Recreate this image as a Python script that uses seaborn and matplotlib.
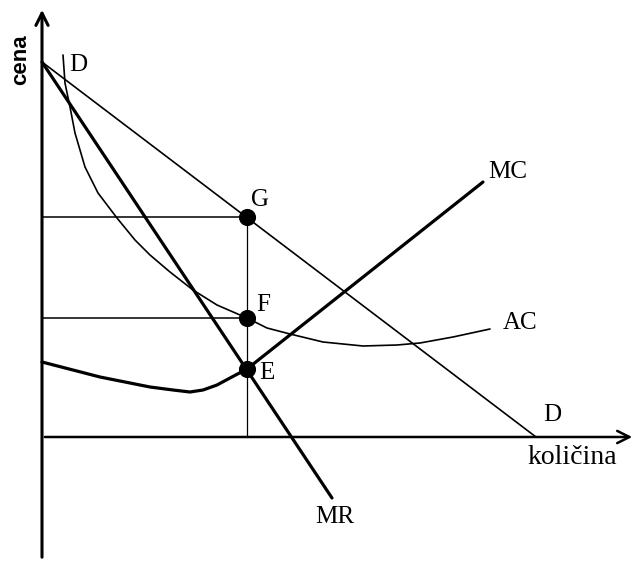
import matplotlib
matplotlib.use("Agg")
import matplotlib.pyplot as plt
import seaborn as sns
import pandas as pd

# ─── Data (quantity, price) ────────────────────────────────
D_Q  = [0.0, 49.4]
D_P  = [37.5, 0.0]
MR_Q = [0.0, 29.0]
MR_P = [37.5, -6.1]

AC_Q = [2.1, 2.3, 2.8, 3.3, 4.3, 5.6, 7.5, 9.3, 10.8, 12.8, 15.1, 17.5, 19.8, 20.5,
        22.5, 24.8, 28.1, 32.1, 35.5, 37.8, 41.1, 44.8]
AC_P = [38.2, 35.4, 33.0, 30.4, 27.0, 24.4, 21.9, 19.7, 18.2, 16.5, 14.7, 13.2, 12.2, 11.9,
        10.9, 10.3, 9.5, 9.1, 9.2, 9.4, 10.0, 10.8]

MC_Q = [0.0, 5.8, 10.8, 13.1, 14.8, 16.1, 17.5, 18.8, 20.5, 44.1]
MC_P = [7.5, 6.0, 5.0, 4.7, 4.5, 4.7, 5.2, 5.9, 6.8, 25.5]

PT_NAMES = ["G", "F", "E"]
PT_Q     = [20.5, 20.5, 20.5]
PT_P     = [22.0, 11.9, 6.8]

sns.set_theme(style="white")
fig = plt.figure(figsize=(6.36, 5.63), dpi=100)
ax = fig.add_axes([0, 0, 1, 1])
ax.set_xlim(-4.2, 59.4)
ax.set_ylim(-12.6, 43.7)
ax.axis("off")

serif = "Liberation Serif"

# axes with arrows
ax.annotate("", xy=(0, 43.0), xytext=(0, -12.3),
            arrowprops=dict(arrowstyle="->", lw=2.2, color="black", mutation_scale=22))
ax.annotate("", xy=(59.3, 0), xytext=(0, 0),
            arrowprops=dict(arrowstyle="->", lw=1.8, color="black", mutation_scale=22))

# guide lines
ax.plot([0, PT_Q[0]], [PT_P[0], PT_P[0]], color="black", lw=1.1)
ax.plot([0, PT_Q[1]], [PT_P[1], PT_P[1]], color="black", lw=1.1)
ax.plot([PT_Q[0], PT_Q[0]], [0, PT_P[0]], color="black", lw=0.9)

# curves
kw = dict(ax=ax, color="black", sort=False, solid_joinstyle="round", solid_capstyle="round")
sns.lineplot(x=D_Q, y=D_P, lw=1.2, **kw)
sns.lineplot(x=MR_Q, y=MR_P, lw=2.3, **kw)
sns.lineplot(x=AC_Q, y=AC_P, lw=1.2, **kw)
sns.lineplot(x=MC_Q, y=MC_P, lw=2.3, **kw)

pts = pd.DataFrame({"q": PT_Q, "p": PT_P, "name": PT_NAMES})
sns.scatterplot(data=pts, x="q", y="p", ax=ax, color="black", s=130, zorder=5, edgecolor="black")

# labels
txt = dict(fontsize=18, family=serif, ha="center", va="center", color="black")
offs = {"G": (1.3, 1.7), "F": (1.6, 1.3), "E": (2.0, -0.4)}
for name, q, p in zip(PT_NAMES, PT_Q, PT_P):
    dx, dy = offs[name]
    ax.text(q + dx, p + dy, name, **txt)

ax.text(46.6, 26.5, "MC", **txt)
ax.text(47.8, 11.4, "AC", **txt)
ax.text(29.3, -8.0, "MR", **txt)
ax.text(3.6, 37.2, "D", **txt)
ax.text(51.0, 2.2, "D", **txt)
ax.text(53.0, -2.0, "količina", fontsize=20, family=serif, ha="center", va="center", color="black")
ax.text(-2.1, 37.7, "cena", fontsize=16, family="Liberation Sans", fontweight="bold",
        rotation=90, ha="center", va="center", color="black")

fig.savefig("out.png", dpi=100, facecolor="white")
